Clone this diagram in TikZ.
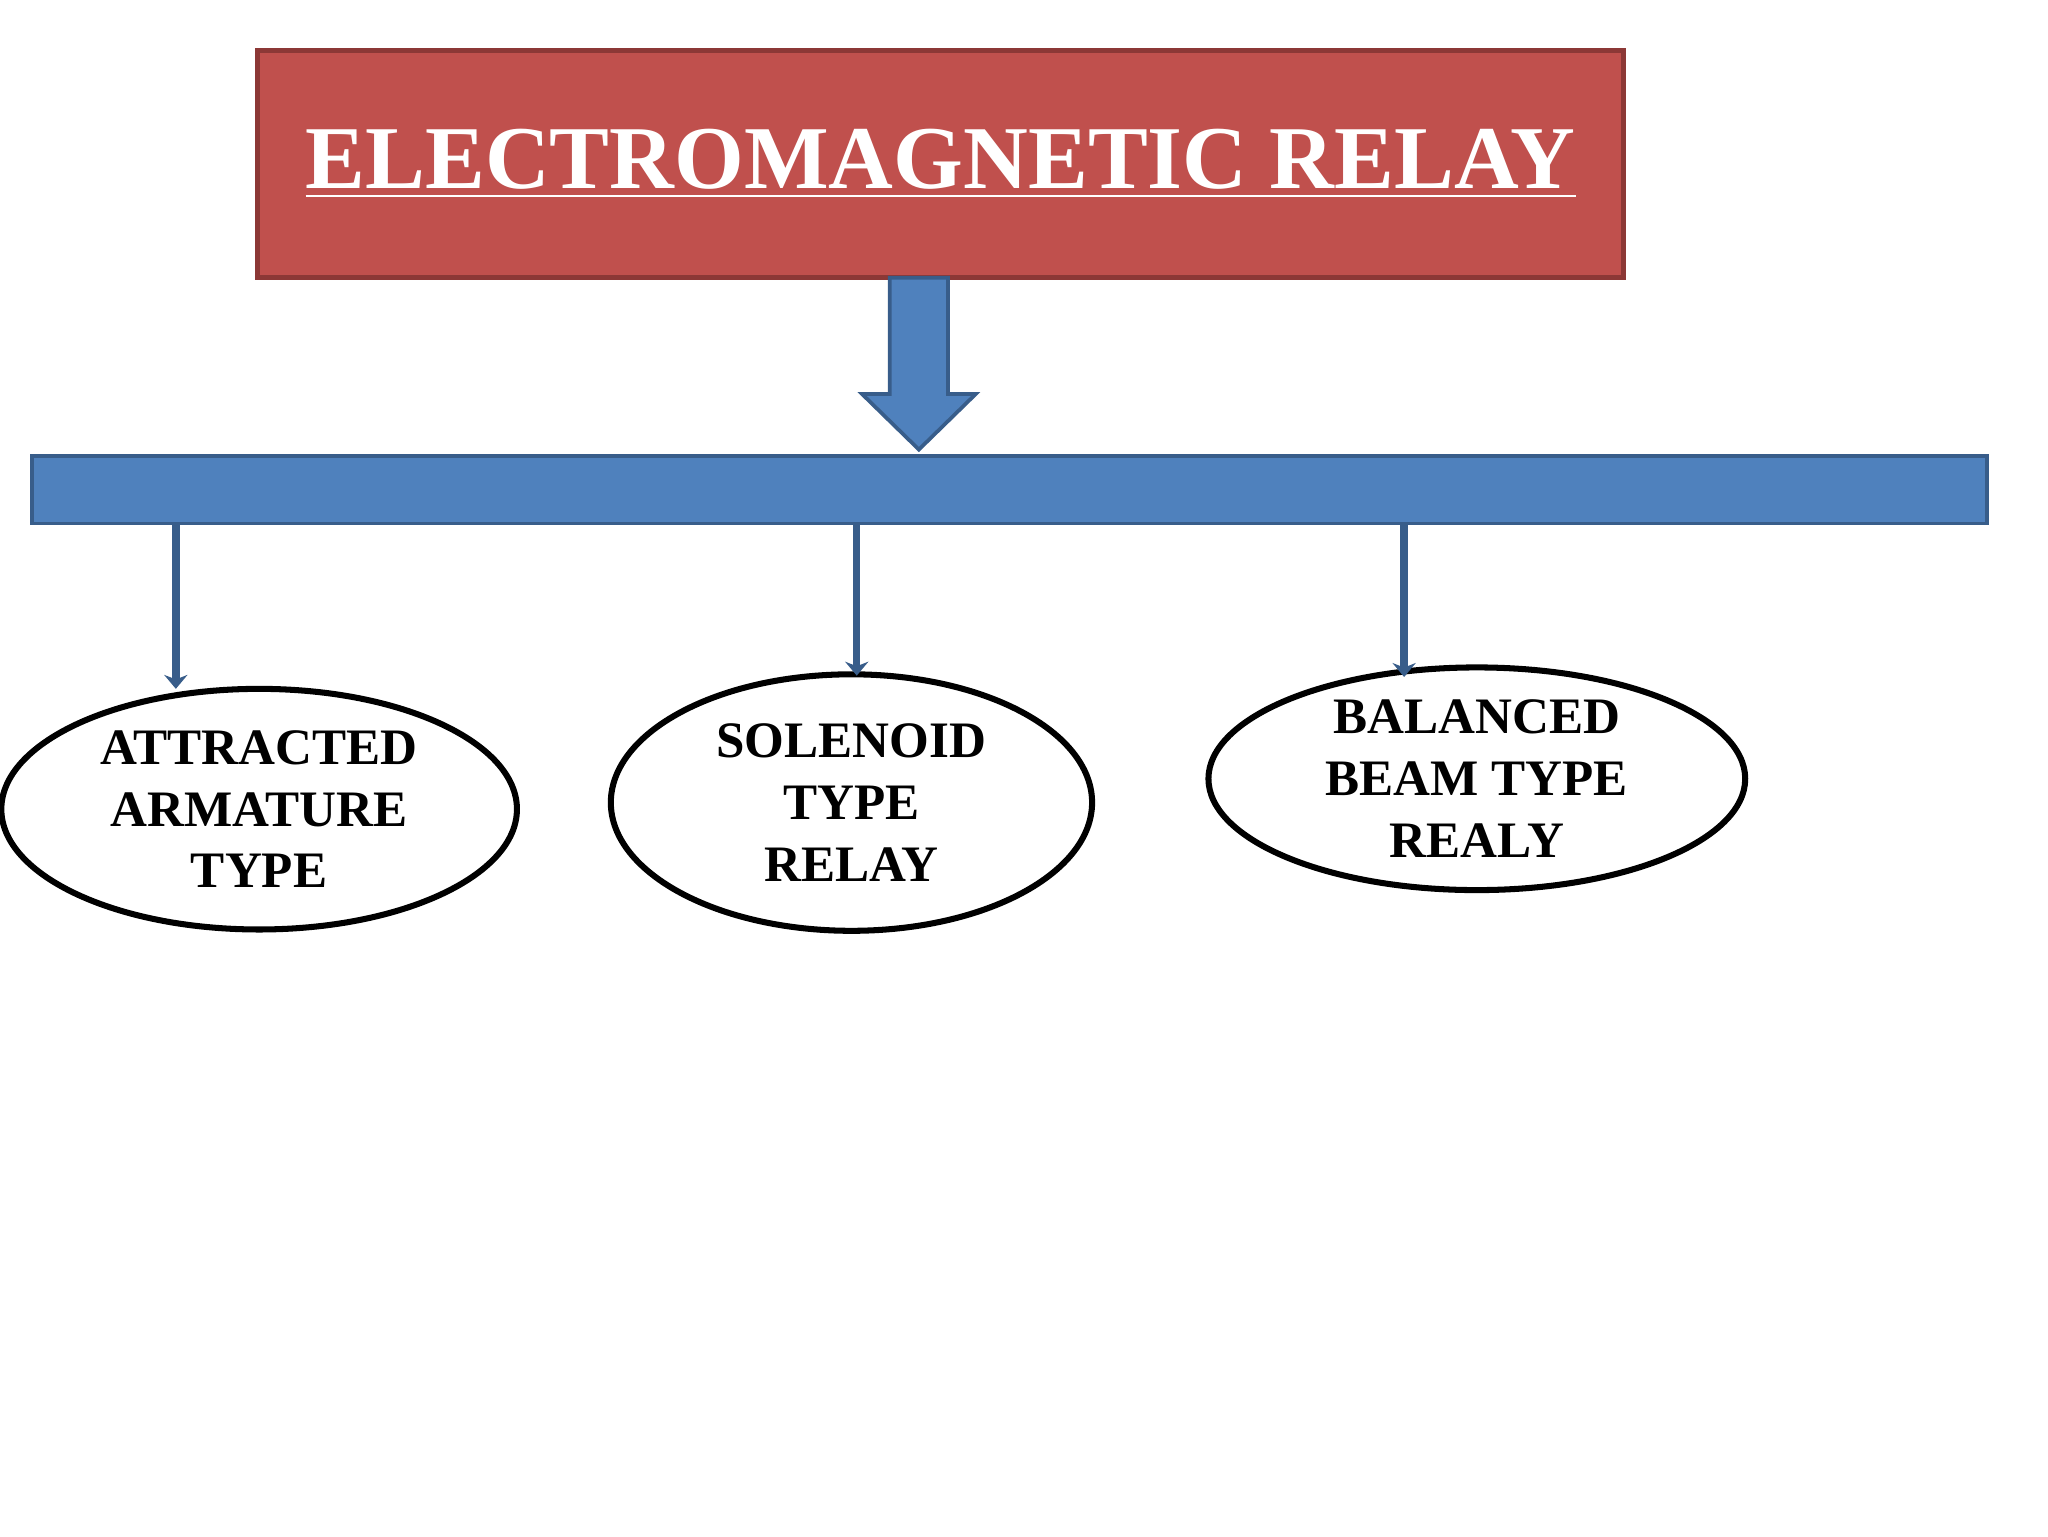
\documentclass[tikz,border=0pt]{standalone}
\usepackage{fontspec}
\setmainfont{Liberation Serif}
\usetikzlibrary{arrows.meta,shapes.geometric}
\definecolor{redfill}{HTML}{C0504D}
\definecolor{redline}{HTML}{8C3836}
\definecolor{bluefill}{HTML}{4F81BD}
\definecolor{blueline}{HTML}{385D8A}
\begin{document}
\begin{tikzpicture}[x=1cm,y=-1cm,
  oval/.style={ellipse,draw=black,line width=1.3pt,fill=white,align=center,
    font=\fontsize{11}{13.3}\selectfont\bfseries,inner sep=0pt},
  conn/.style={draw=blueline,line width=1.6pt,-{Stealth[length=3pt,width=5pt]}}]
\useasboundingbox (0,0) rectangle (15.49,11.62);
\node[draw=redline,line width=1pt,fill=redfill,minimum width=10.33cm,minimum height=1.72cm,inner sep=0pt,
  text=white,font=\fontsize{19.3}{22}\selectfont\bfseries] (title) at (7.115,1.24)
  {\underline{ELECTROMAGNETIC RELAY}};
\draw[draw=blueline,line width=0.8pt,fill=bluefill] (6.73,2.10) -- (7.17,2.10) -- (7.17,2.98) -- (7.38,2.98)
  -- (6.95,3.40) -- (6.52,2.98) -- (6.73,2.98) -- cycle;
\node[draw=blueline,line width=0.8pt,fill=bluefill,minimum width=14.79cm,minimum height=0.51cm,inner sep=0pt] (bar) at (7.635,3.705) {};
\node[oval,minimum width=3.9cm,minimum height=1.82cm] (e1) at (1.96,6.12) {ATTRACTED\\ARMATURE\\TYPE};
\node[oval,minimum width=3.64cm,minimum height=1.94cm] (e2) at (6.44,6.07) {SOLENOID\\TYPE\\RELAY};
\node[oval,minimum width=4.06cm,minimum height=1.58cm] (e3) at (11.17,5.89) {BALANCED\\BEAM TYPE\\REALY};
\coordinate (s1) at (1.33,3.96); \coordinate (t1) at (1.33,5.21);
\coordinate (s2) at (6.48,3.96); \coordinate (t2) at (6.48,5.11);
\coordinate (s3) at (10.62,3.96); \coordinate (t3) at (10.62,5.12);
\draw[conn] (s1) -- (t1);
\draw[conn] (s2) -- (t2);
\draw[conn] (s3) -- (t3);
\end{tikzpicture}
\end{document}
